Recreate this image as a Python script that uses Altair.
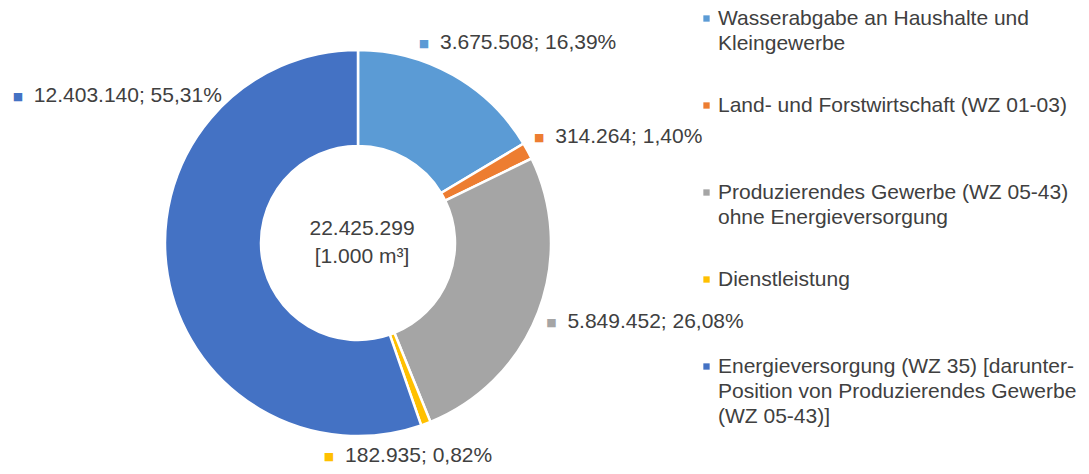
import altair as alt
import pandas as pd

# ---- data ----
categories = [
    "Wasserabgabe an Haushalte und\nKleingewerbe",
    "Land- und Forstwirtschaft (WZ 01-03)",
    "Produzierendes Gewerbe (WZ 05-43)\nohne Energieversorgung",
    "Dienstleistung",
    "Energieversorgung (WZ 35) [darunter-\nPosition von Produzierendes Gewerbe\n(WZ 05-43)]",
]
values = [3675508, 314264, 5849452, 182935, 12403140]
percents = [16.39, 1.40, 26.08, 0.82, 55.31]
unit_label = "[1.000 m³]"

# ---- styling ----
colors = ["#5B9BD5", "#ED7D31", "#A5A5A5", "#FFC000", "#4472C4"]
FONT = "Liberation Sans"
TEXT_COLOR = "#404040"
FS = 21
CX, CY = 350, 235          # pie centre (chart coords)
R_OUT, R_IN = 193, 97
LABEL_R = 205
# label offsets (text start relative to anchor at LABEL_R on slice mid-angle)
label_offsets = [(-19, -22), (17, -8), (18, 6), (-85, 21), (-122, -181)]


def de_num(v):
    return f"{v:,}".replace(",", ".")


def de_pct(p):
    return f"{p:.2f}".replace(".", ",") + "%"


df = pd.DataFrame({
    "cat": categories,
    "value": values,
    "idx": list(range(len(categories))),
    "label": [f"{de_num(v)}; {de_pct(p)}" for v, p in zip(values, percents)],
})

base = alt.Chart(df)
theta = alt.Theta("value:Q", stack=True)
order = alt.Order("idx:Q")

# every legend entry takes three text lines so entries are evenly spaced
legend_expr = "slice(split(datum.label + '\\n\\n', '\\n'), 0, 3)"

arc = base.mark_arc(innerRadius=R_IN, outerRadius=R_OUT, stroke="white", strokeWidth=2.5).encode(
    theta=theta,
    order=order,
    x=alt.value(CX),
    y=alt.value(CY),
    color=alt.Color(
        "cat:N",
        scale=alt.Scale(domain=categories, range=colors),
        sort=categories,
        legend=alt.Legend(
            title=None,
            orient="none",
            legendX=688,
            legendY=0,
            padding=0,
            symbolType="square",
            symbolSize=40,
            symbolStrokeWidth=0,
            labelFont=FONT,
            labelFontSize=FS,
            labelColor=TEXT_COLOR,
            labelOffset=1,
            labelLimit=500,
            rowPadding=15,
            labelExpr=legend_expr,
        ),
    ),
)

layers = [arc]
for i, (dx, dy) in enumerate(label_offsets):
    txt = base.mark_text(
        radius=LABEL_R, align="left", baseline="middle", dx=dx, dy=dy,
        font=FONT, fontSize=FS, color=TEXT_COLOR,
    ).encode(
        theta=theta, order=order, x=alt.value(CX), y=alt.value(CY),
        text=alt.condition(alt.datum.idx == i, alt.Text("label:N"), alt.value("")),
    )
    sq = base.mark_text(
        radius=LABEL_R, align="center", baseline="middle", dx=dx - 16, dy=dy + 1,
        font="DejaVu Sans", fontSize=11, color=colors[i],
    ).encode(
        theta=theta, order=order, x=alt.value(CX), y=alt.value(CY),
        text=alt.condition(alt.datum.idx == i, alt.value("■"), alt.value("")),
    )
    layers += [txt, sq]

center_df = pd.DataFrame({"t": [de_num(sum(values)) + "\n" + unit_label]})
center = alt.Chart(center_df).mark_text(
    font=FONT, fontSize=FS, color=TEXT_COLOR, baseline="middle", align="center",
    lineBreak="\n", lineHeight=28, dx=4, dy=-14,
).encode(x=alt.value(CX), y=alt.value(CY), text="t:N")
layers.append(center)

chart = alt.layer(*layers).properties(
    width=1073, height=458, autosize="none", padding=0
).configure(
    style={"guide-label": {"lineHeight": 25}}
).configure_view(stroke=None)

chart.save("out.html", embed_options={"renderer": "svg", "actions": False})
